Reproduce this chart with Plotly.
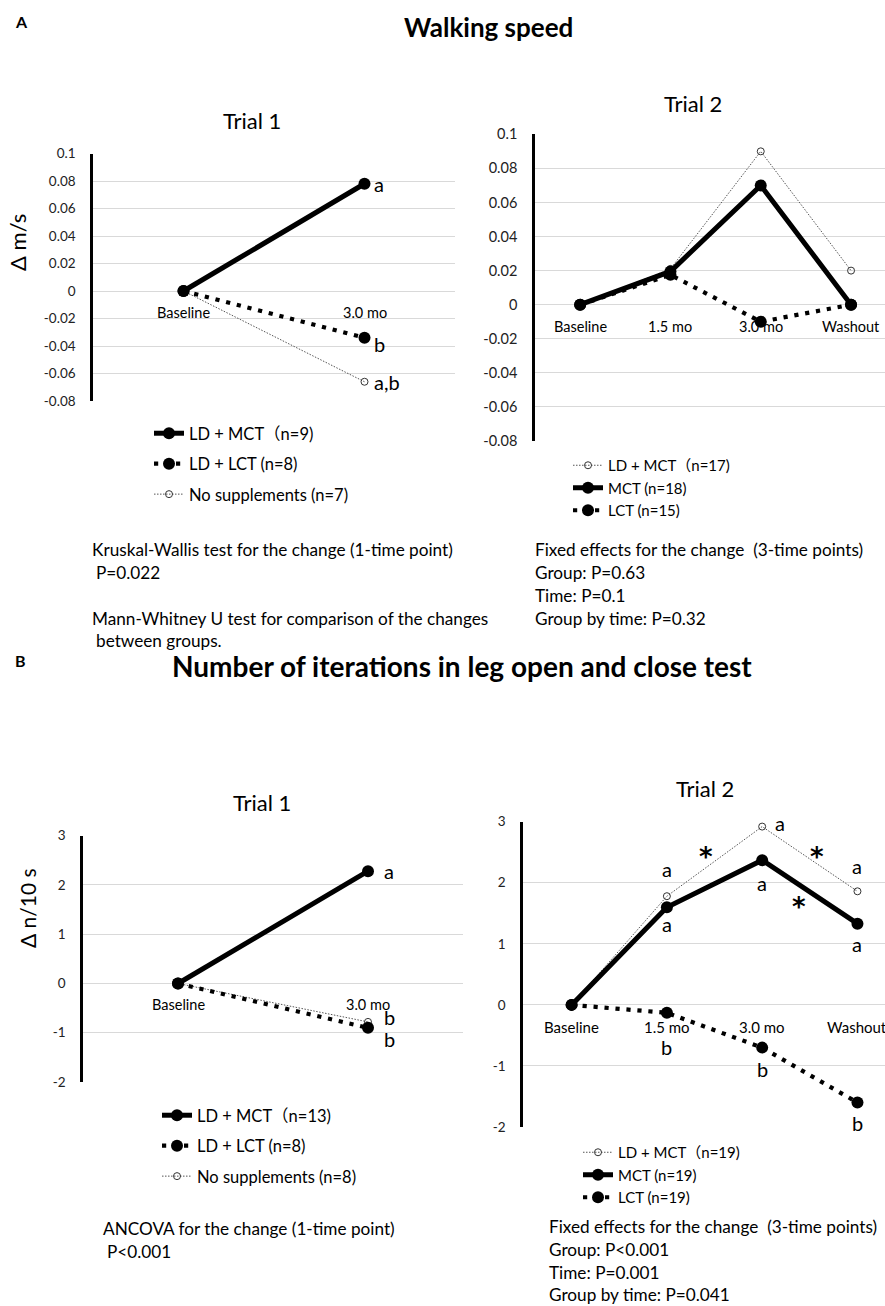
import plotly.graph_objects as go

W, H = 885, 1306
FONT = "Lato, 'Noto Sans', 'Noto Sans CJK JP', sans-serif"

# ---------------- data ----------------
# Panel A (walking speed, Δ m/s)
a1_cats = ["Baseline", "3.0 mo"]
a1_ld_mct = [0, 0.078]
a1_ld_lct = [0, -0.034]
a1_nosup = [0, -0.066]
a1_names = ["LD + MCT（n=9)", "LD + LCT (n=8)", "No supplements (n=7)"]

a2_cats = ["Baseline", "1.5 mo", "3.0 mo", "Washout"]
a2_ld_mct = [0, 0.021, 0.09, 0.02]
a2_mct = [0, 0.0195, 0.07, 0]
a2_lct = [0, 0.0175, -0.01, 0]
a2_names = ["LD + MCT（n=17)", "MCT (n=18)", "LCT (n=15)"]

a_yticks = [0.1, 0.08, 0.06, 0.04, 0.02, 0, -0.02, -0.04, -0.06, -0.08]
a_yticktext = ["0.1", "0.08", "0.06", "0.04", "0.02", "0", "-0.02", "-0.04", "-0.06", "-0.08"]

# Panel B (leg open and close, Δ n/10 s)
b1_cats = ["Baseline", "3.0 mo"]
b1_ld_mct = [0, 2.28]
b1_ld_lct = [0, -0.9]
b1_nosup = [0, -0.78]
b1_names = ["LD + MCT（n=13)", "LD + LCT (n=8)", "No supplements (n=8)"]

b2_cats = ["Baseline", "1.5 mo", "3.0 mo", "Washout"]
b2_ld_mct = [0, 1.78, 2.92, 1.86]
b2_mct = [0, 1.6, 2.37, 1.33]
b2_lct = [0, -0.13, -0.7, -1.6]
b2_names = ["LD + MCT（n=19)", "MCT (n=19)", "LCT (n=19)"]

b_yticks = [3, 2, 1, 0, -1, -2]
b_yticktext = ["3", "2", "1", "0", "-1", "-2"]

# significance letters: (category, series value, text)
a1_letters = [("3.0 mo", 0.078, "a"), ("3.0 mo", -0.034, "b"), ("3.0 mo", -0.066, "a,b")]
b1_letters = [("3.0 mo", 2.28, "a"), ("3.0 mo", -0.78, "b"), ("3.0 mo", -0.9, "b")]
b2_letters = [("1.5 mo", 1.78, "a"), ("1.5 mo", 1.6, "a"), ("3.0 mo", 2.92, "a"),
              ("3.0 mo", 2.37, "a"), ("Washout", 1.86, "a"), ("Washout", 1.33, "a"),
              ("1.5 mo", -0.13, "b"), ("3.0 mo", -0.7, "b"), ("Washout", -1.6, "b")]
b2_stars = [(1.41, 2.54), (2.58, 2.54), (2.39, 1.72)]

a_stats_left = ["Kruskal-Wallis test for the change (1-time point)", "P=0.022",
                "Mann-Whitney U test for comparison of the changes", "between groups."]
a_stats_right = ["Fixed effects for the change  (3-time points)", "Group: P=0.63",
                 "Time: P=0.1", "Group by time: P=0.32"]
b_stats_left = ["ANCOVA for the change (1-time point)", "P<0.001"]
b_stats_right = ["Fixed effects for the change  (3-time points)", "Group: P<0.001",
                 "Time: P=0.001", "Group by time: P=0.041"]

# ---------------- styles ----------------
STY_SOLID = dict(line=dict(color="black", width=5),
                 marker=dict(symbol="circle", size=12, color="black"))
STY_DOT = dict(line=dict(color="black", width=4.2, dash="4.2px,6.8px"),
               marker=dict(symbol="circle", size=12, color="black"))
STY_THIN = dict(line=dict(color="#555555", width=1, dash="1.5px,1.5px"),
                marker=dict(symbol="circle-open", size=7, color="#333333", line=dict(width=1)))


def px(xp):
    return xp / W


def py(yp):
    return 1 - yp / H


fig = go.Figure()


def add(xs, ys, name, sty, xa, ya, leg, rank):
    fig.add_trace(go.Scatter(x=xs, y=ys, name=name, mode="lines+markers",
                             xaxis=xa, yaxis=ya, legend=leg, legendgroup=leg + name,
                             legendrank=rank, cliponaxis=False, **sty))


# A Trial 1
add(a1_cats, a1_nosup, a1_names[2], STY_THIN, "x", "y", "legend", 3)
add(a1_cats, a1_ld_lct, a1_names[1], STY_DOT, "x", "y", "legend", 2)
add(a1_cats, a1_ld_mct, a1_names[0], STY_SOLID, "x", "y", "legend", 1)
# A Trial 2
add(a2_cats, a2_ld_mct, a2_names[0], STY_THIN, "x2", "y2", "legend2", 1)
add(a2_cats, a2_lct, a2_names[2], STY_DOT, "x2", "y2", "legend2", 3)
add(a2_cats, a2_mct, a2_names[1], STY_SOLID, "x2", "y2", "legend2", 2)
# B Trial 1
add(b1_cats, b1_nosup, b1_names[2], STY_THIN, "x3", "y3", "legend3", 3)
add(b1_cats, b1_ld_lct, b1_names[1], STY_DOT, "x3", "y3", "legend3", 2)
add(b1_cats, b1_ld_mct, b1_names[0], STY_SOLID, "x3", "y3", "legend3", 1)
# B Trial 2
add(b2_cats, b2_ld_mct, b2_names[0], STY_THIN, "x4", "y4", "legend4", 1)
add(b2_cats, b2_lct, b2_names[2], STY_DOT, "x4", "y4", "legend4", 3)
add(b2_cats, b2_mct, b2_names[1], STY_SOLID, "x4", "y4", "legend4", 2)

GRID = "#d9d9d9"


def xax(dom, rng, anchor):
    return dict(domain=dom, range=rng, type="category", showticklabels=False, showgrid=False,
                zeroline=False, showline=False, ticks="", anchor=anchor, fixedrange=True,
                automargin=False)


def yax(dom, rng, tv, tt, fs, anchor):
    return dict(domain=dom, range=rng, tickvals=tv, ticktext=tt, showgrid=True, gridcolor=GRID,
                gridwidth=1.2, zeroline=False, showline=True, linecolor="black", linewidth=2.5,
                ticks="", ticklabelstandoff=12, tickfont=dict(family=FONT, size=fs, color="#222"),
                anchor=anchor, fixedrange=True, automargin=False)


fig.update_layout(
    width=W, height=H, margin=dict(l=0, r=0, t=0, b=0, pad=0),
    paper_bgcolor="white", plot_bgcolor="white",
    font=dict(family=FONT, color="black"),
    xaxis=xax([px(93), px(455)], [-0.5, 1.5], "y"),
    yaxis=yax([py(401), py(153.5)], [-0.08, 0.1], a_yticks, a_yticktext, 13.5, "x"),
    xaxis2=xax([px(535), 1.0], [-0.5, 3.376], "y2"),
    yaxis2=yax([py(441), py(134.3)], [-0.08, 0.1], a_yticks, a_yticktext, 14.5, "x2"),
    xaxis3=xax([px(83), px(463)], [-0.5, 1.5], "y3"),
    yaxis3=yax([py(1082), py(835.7)], [-2, 3], b_yticks, b_yticktext, 13.5, "x3"),
    xaxis4=xax([px(523), 1.0], [-0.51, 3.289], "y4"),
    yaxis4=yax([py(1127), py(821.7)], [-2, 3], b_yticks, b_yticktext, 13.5, "x4"),
)

LEGFONT1 = dict(family=FONT, size=16.5, color="black")
LEGFONT2 = dict(family=FONT, size=15, color="black")
fig.update_layout(
    legend=dict(x=px(149), y=py(416), xanchor="left", yanchor="top", font=LEGFONT1,
                tracegroupgap=6, bgcolor="rgba(0,0,0,0)"),
    legend2=dict(x=px(568), y=py(449), xanchor="left", yanchor="top", font=LEGFONT2,
                 tracegroupgap=0, bgcolor="rgba(0,0,0,0)"),
    legend3=dict(x=px(157), y=py(1098), xanchor="left", yanchor="top", font=LEGFONT1,
                 tracegroupgap=6, bgcolor="rgba(0,0,0,0)"),
    legend4=dict(x=px(578), y=py(1136), xanchor="left", yanchor="top", font=LEGFONT2,
                 tracegroupgap=0, bgcolor="rgba(0,0,0,0)"),
)

ann = []


def paper_text(x, y, text, size, bold=False, xanchor="left", angle=0):
    t = "<b>%s</b>" % text if bold else text
    ann.append(dict(x=px(x), y=py(y), xref="paper", yref="paper", text=t, showarrow=False,
                    xanchor=xanchor, yanchor="middle", textangle=angle,
                    font=dict(family=FONT, size=size, color="black")))


# headers
paper_text(13, 22, "A", 16, bold=True)
paper_text(488, 27, "Walking speed", 26, bold=True, xanchor="center")
paper_text(13, 660, "B", 16, bold=True)
paper_text(462, 666, "Number of iterations in leg open and close test", 28, bold=True, xanchor="center")
paper_text(252, 120, "Trial 1", 22, xanchor="center")
paper_text(693, 104, "Trial 2", 22, xanchor="center")
paper_text(262, 802, "Trial 1", 22, xanchor="center")
paper_text(705, 788, "Trial 2", 22, xanchor="center")
paper_text(18, 243, "Δ m/s", 22, xanchor="center", angle=-90)
paper_text(27, 908, "Δ n/10 s", 21, xanchor="center", angle=-90)

# stats text
STAT = 17.2
for i, (t, y) in enumerate(zip(a_stats_left, [549, 572, 618, 641])):
    paper_text(90 + (4 if i in (1, 3) else 0), y, t, STAT)
for t, y in zip(a_stats_right, [549, 572, 595, 618]):
    paper_text(533, y, t, STAT)
for i, (t, y) in enumerate(zip(b_stats_left, [1228, 1251])):
    paper_text(101 + (4 if i == 1 else 0), y, t, STAT)
for t, y in zip(b_stats_right, [1226, 1249, 1272, 1294]):
    paper_text(547, y, t, STAT)


def data_text(xa, ya, x, y, text, size, xshift=0, yshift=0, xanchor="center", family=FONT):
    ann.append(dict(x=x, y=y, xref=xa, yref=ya, text=text, showarrow=False,
                    xanchor=xanchor, yanchor="middle", xshift=xshift, yshift=yshift,
                    font=dict(family=family, size=size, color="black")))


# category labels placed just under the zero line (Excel style)
for c in a1_cats:
    data_text("x", "y", c, 0, c, 14.5, yshift=-21)
for c in a2_cats:
    data_text("x2", "y2", c, 0, c, 14.5, yshift=-22)
for c in b1_cats:
    data_text("x3", "y3", c, 0, c, 14.5, yshift=-21)
for c in b2_cats:
    data_text("x4", "y4", c, 0, c, 15, yshift=-22)

# significance letters
a1_shift = [0, -6, 0]
for (c, v, t), s in zip(a1_letters, a1_shift):
    data_text("x", "y", c, v, t, 20, xshift=7, yshift=s, xanchor="left")
b1_shift = [(14, 0), (14, 5), (14, -11)]
for (c, v, t), (sx, sy) in zip(b1_letters, b1_shift):
    data_text("x3", "y3", c, v, t, 20, xshift=sx, yshift=sy, xanchor="left")
b2_shift = [(0, 27), (0, -17), (18, 4), (0, -23), (0, 25), (0, -20), (0, -34), (0, -21), (0, -20)]
for (c, v, t), (sx, sy) in zip(b2_letters, b2_shift):
    data_text("x4", "y4", c, v, t, 20, xshift=sx, yshift=sy)
for (xv, yv) in b2_stars:
    data_text("x4", "y4", xv, yv, "<b>*</b>", 26, yshift=-7, family="'DejaVu Sans', sans-serif")

fig.update_layout(annotations=ann)
fig.write_html("out.html", config={"displayModeBar": False},
               post_script="document.body.style.margin='0px';")
